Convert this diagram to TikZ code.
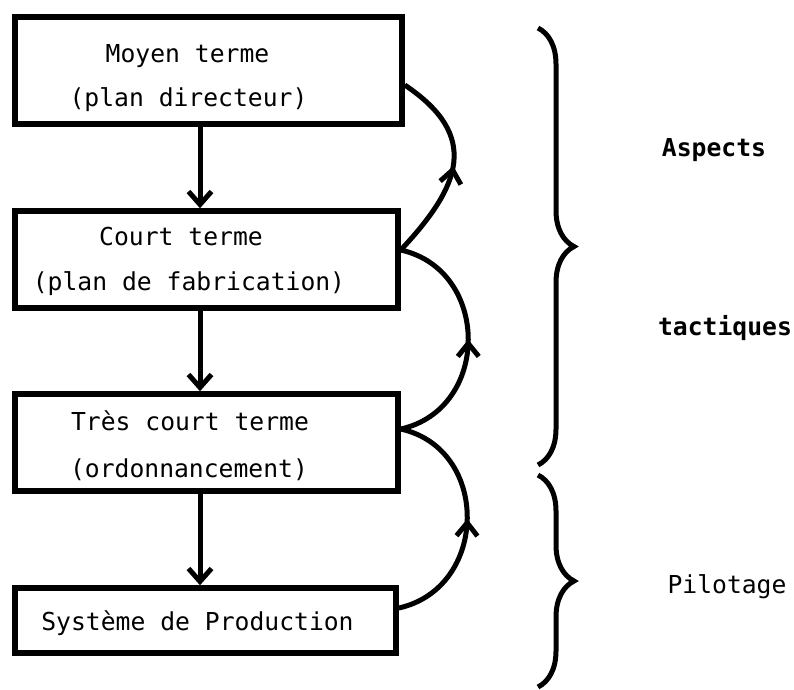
\documentclass[tikz,border=0pt]{standalone}
\usepackage{fontspec}
\newfontfamily\scanfont{DejaVu Sans Mono}
\usetikzlibrary{arrows.meta}
\usetikzlibrary{calc,positioning,decorations.pathreplacing,decorations.markings}

\begin{document}
\begin{tikzpicture}[x=1pt,y=-1pt,>={Straight Barb[length=13pt,width=23pt]},every node/.style={font=\scanfont\fontsize{24.7pt}{30pt}\selectfont}]
\tikzstyle{box} = [draw, line width=5.5pt, inner sep=0pt, minimum width=383pt, minimum height=97pt]
\tikzstyle{txt} = [anchor=base, inner sep=0pt]
\tikzstyle{gras} = [txt, font=\scanfont\bfseries\fontsize{24.7pt}{30pt}\selectfont]
\tikzstyle{flow} = [->, line width=5pt]
\tikzstyle{retour} = [line width=5pt, postaction={decorate}, decoration={markings, mark=at position 0.5 with {\arrow{Straight Barb[length=13pt,width=21pt]}}}]
\tikzstyle{accolade} = [line width=5pt, decorate, decoration={brace, amplitude=36pt}]
\useasboundingbox (0,0) rectangle (794,689);

% les quatre niveaux
\node[box, minimum width=387pt, minimum height=107pt] (b1) at (208.5,70.5) {};
\node[box] (b2) at (206.5,259.5) {};
\node[box] (b3) at (206.5,442.5) {};
\node[box, minimum width=381pt, minimum height=65pt] (b4) at (205.5,620.5) {};

\node[txt] (m1) at (187.5,62) {Moyen terme};
\node[txt] (m2) at (188.5,106) {(plan directeur)};
\node[txt] (c1) at (181,245) {Court terme};
\node[txt] (c2) at (189,290) {(plan de fabrication)};
\node[txt] (t1) at (190,430) {Très court terme};
\node[txt] (t2) at (189,477) {(ordonnancement)};
\node[txt] (s1) at (197.5,630) {Système de Production};

% descente
\coordinate (spine) at (200,0);
\draw[flow] (b1.south -| spine) -- (b2.north -| spine);
\draw[flow] (b2.south -| spine) -- (b3.north -| spine);
\draw[flow] (b3.south -| spine) -- (b4.north -| spine);

% remontee
\coordinate (r1) at ([yshift=-14.5pt]b1.east);
\coordinate (r2) at ([yshift=9.5pt]b2.east);
\coordinate (r3) at ([yshift=13.5pt]b3.east);
\coordinate (r4) at ([yshift=12.5pt]b4.east);
\draw[retour] (r2) .. controls +(60,-64) and +(76,51) .. (r1);
\draw[retour] (r3) .. controls +(90,-20) and +(90,20) .. (r2);
\draw[retour] (r4) .. controls +(90,-20) and +(90,20) .. (r3);

% accolades
\draw[accolade] (538,28) -- (538,465);
\draw[accolade] (538,475) -- (538,687);
\node[gras] (a1) at (714,156) {Aspects};
\node[gras] (a2) at (725,335) {tactiques};
\node[txt] (p1) at (727,593) {Pilotage};
\end{tikzpicture}
\end{document}
